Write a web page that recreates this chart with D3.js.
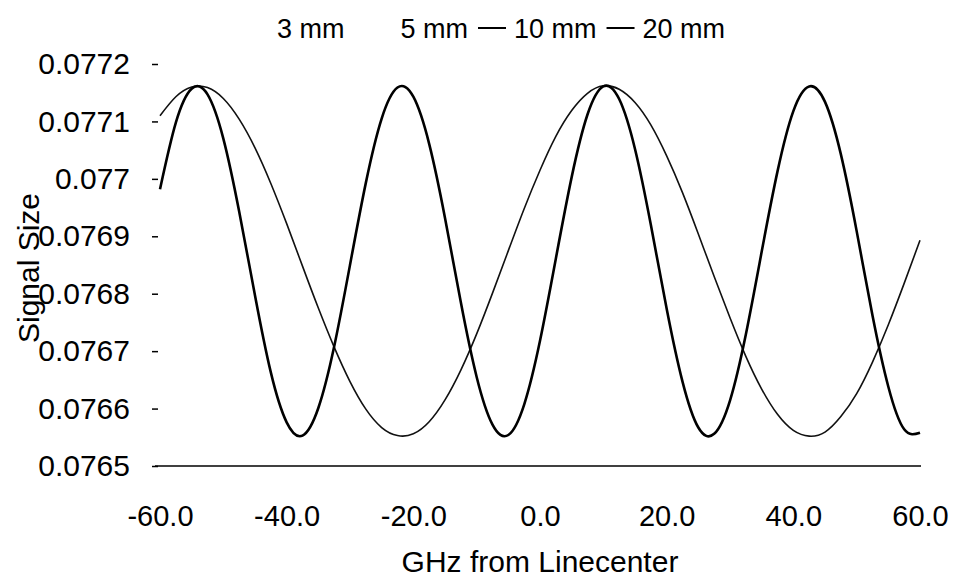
<!DOCTYPE html>
<html lang="en">
<head>
<meta charset="UTF-8">
<title>Signal Size vs GHz from Linecenter</title>
<style>
    body { margin: 0; background: #fff; }
    svg { display: block; font-family: "Liberation Sans", Arial, sans-serif; }
</style>
</head>
<body>
<div id="chart"></div>
<script src="https://d3js.org/d3.v7.min.js"></script>
<script>
// frequency offsets (GHz), one sample every 2.5 GHz
const freqs = [-60, -57.5, -55, -52.5, -50, -47.5, -45, -42.5, -40, -37.5, -35, -32.5, -30, -27.5, -25, -22.5, -20, -17.5, -15, -12.5, -10, -7.5, -5, -2.5, 0,
               2.5, 5, 7.5, 10, 12.5, 15, 17.5, 20, 22.5, 25, 27.5, 30, 32.5, 35, 37.5, 40, 42.5, 45, 47.5, 50, 52.5, 55, 57.5, 60];

// 10 mm cell: slow fringe (thin line)
const signal10mm = [0.077110, 0.077143, 0.077160, 0.077159, 0.077140, 0.077104, 0.077054, 0.076992, 0.076922, 0.076848, 0.076775, 0.076707, 0.076647,
                    0.076599, 0.076567, 0.076553, 0.076556, 0.076577, 0.076615, 0.076667, 0.076730, 0.076801, 0.076875, 0.076948, 0.077015,
                    0.077074, 0.077119, 0.077149, 0.077162, 0.077156, 0.077133, 0.077094, 0.077040, 0.076976, 0.076904, 0.076830, 0.076758,
                    0.076691, 0.076634, 0.076590, 0.076562, 0.076552, 0.076559, 0.076586, 0.076626, 0.076681, 0.076746, 0.076818, 0.076893];

// 20 mm cell: fast fringe (thick line)
const signal20mm = [0.076982, 0.077098, 0.077157, 0.077147, 0.077070, 0.076943, 0.076797, 0.076663, 0.076576, 0.076553, 0.076601, 0.076708, 0.076850,
                    0.076993, 0.077105, 0.077159, 0.077143, 0.077061, 0.076932, 0.076785, 0.076655, 0.076572, 0.076554, 0.076607, 0.076718,
                    0.076861, 0.077003, 0.077112, 0.077161, 0.077139, 0.077052, 0.076920, 0.076774, 0.076647, 0.076567, 0.076556, 0.076614,
                    0.076729, 0.076873, 0.077013, 0.077118, 0.077161, 0.077134, 0.077043, 0.076909, 0.076762, 0.076638, 0.076564, 0.076558];

const legendNames = ["3 mm", "5 mm", "10 mm", "20 mm"];
const legendMarkers = [false, false, true, true];   // 3 mm and 5 mm traces did not survive the scan
const yTicks = [0.0765, 0.0766, 0.0767, 0.0768, 0.0769, 0.077, 0.0771, 0.0772];
const yTickLabels = ["0.0765", "0.0766", "0.0767", "0.0768", "0.0769", "0.077", "0.0771", "0.0772"];
const xTicks = [-60, -40, -20, 0, 20, 40, 60];
const xTickLabels = ["-60.0", "-40.0", "-20.0", "0.0", "20.0", "40.0", "60.0"];

const W = 954, H = 578;
const svg = d3.select("#chart").append("svg")
    .attr("width", W).attr("height", H);

const x = d3.scaleLinear().domain([-60, 60]).range([160, 920]);
const y = d3.scaleLinear().domain([0.0765, 0.0772]).range([466, 64]);

// y axis: short ticks, no spine
const yAxis = svg.append("g")
    .attr("transform", "translate(158,0)")
    .call(d3.axisLeft(y).tickValues(yTicks).tickSize(6).tickPadding(22)
        .tickFormat((d, i) => yTickLabels[i]));
yAxis.select(".domain").remove();
yAxis.selectAll("line").attr("stroke", "#000").attr("stroke-width", 1.5);
yAxis.selectAll("text")
    .attr("font-size", 30).attr("fill", "#000")
    .attr("font-family", "'Liberation Sans', Arial, sans-serif");

// x axis: plain baseline with labels, no ticks
const xAxis = svg.append("g")
    .attr("transform", "translate(0,466)")
    .call(d3.axisBottom(x).tickValues(xTicks).tickSize(0).tickPadding(39)
        .tickFormat((d, i) => xTickLabels[i]));
xAxis.select(".domain").attr("stroke", "#000").attr("stroke-width", 1.6)
    .attr("d", `M155,0H${x(60) + 1}`);
xAxis.selectAll("text")
    .attr("font-size", 29).attr("fill", "#000")
    .attr("font-family", "'Liberation Sans', Arial, sans-serif")
    .attr("dy", "0.71em");

// axis titles
svg.append("text")
    .attr("x", 540).attr("y", 572)
    .attr("text-anchor", "middle")
    .attr("font-size", 30)
    .text("GHz from Linecenter");

svg.append("text")
    .attr("transform", "translate(39,268) rotate(-90)")
    .attr("text-anchor", "middle")
    .attr("font-size", 30)
    .text("Signal Size");

// curves
const line = d3.line()
    .x((d, i) => x(freqs[i]))
    .y(d => y(d))
    .curve(d3.curveNatural);

svg.append("path")
    .datum(signal10mm)
    .attr("d", line)
    .attr("fill", "none")
    .attr("stroke", "#111")
    .attr("stroke-width", 1.6);

svg.append("path")
    .datum(signal20mm)
    .attr("d", line)
    .attr("fill", "none")
    .attr("stroke", "#000")
    .attr("stroke-width", 2.6);

// legend across the top
const legend = svg.append("g").attr("font-size", 27);
let lx = 277;
legendNames.forEach((name, i) => {
    if (i === 1) lx += 14;
    if (legendMarkers[i]) {
        legend.append("line")
            .attr("x1", lx).attr("x2", lx + 28)
            .attr("y1", 28).attr("y2", 28)
            .attr("stroke", "#000").attr("stroke-width", 2);
        lx += 36;
    } else if (i > 0) {
        lx += 32;
    }
    const t = legend.append("text")
        .attr("x", lx).attr("y", 38)
        .text(name);
    lx += t.node().getComputedTextLength() + 10;
});
</script>
</body>
</html>
